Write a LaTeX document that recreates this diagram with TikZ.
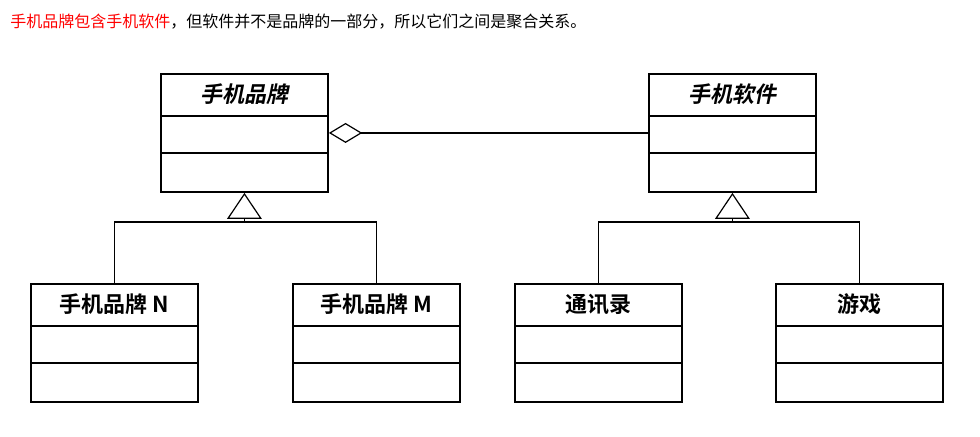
\documentclass[tikz,border=0pt]{standalone}
\usepackage{fontspec}
\usepackage{tikz}
\usetikzlibrary{arrows.meta,positioning,calc}
\newfontfamily\cjk{Noto Sans CJK SC}
\newfontfamily\cjkb{Noto Sans CJK SC Bold}
\newfontfamily\cjkbsl[FakeSlant=0.2]{Noto Sans CJK SC Bold}
\tikzset{
  cls/.style={draw, line width=1.4pt, rectangle, minimum width=125.25pt, minimum height=88.5pt, anchor=north west, inner sep=0pt},
  ttl/.style={font=\cjkb\fontsize{16.5}{16.5}\selectfont, inner sep=0pt},
  absttl/.style={font=\cjkbsl\fontsize{16.5}{16.5}\selectfont, inner sep=0pt},
  sep/.style={line width=1.4pt},
  agg/.style={-{Diamond[open, length=25pt, width=15pt]}, line width=0.9pt},
  inh/.style={-{Triangle[open, length=19.5pt, width=26pt]}, line width=0.9pt},
  lnk/.style={line width=0.9pt}
}
\begin{document}
\begin{tikzpicture}[x=0.75pt, y=-0.75pt]
  \useasboundingbox (0,0) rectangle (980,436);
  \node[anchor=west, font=\cjk\fontsize{12}{12}\selectfont, inner sep=0pt] (cap) at (10,22) {\textcolor{red}{手机品牌包含手机软件}，但软件并不是品牌的一部分，所以它们之间是聚合关系。};
  \foreach \n/\x/\y in {brand/160/73, soft/648/73, brandN/30/283, brandM/292/283, contacts/514/283, game/775/283} {
    \node[cls] (\n) at (\x,\y) {};
    \draw[sep] ($(\n.north west)+(0,43)$) -- ($(\n.north east)+(0,43)$);
    \draw[sep] ($(\n.north west)+(0,80)$) -- ($(\n.north east)+(0,80)$);
  }
  \node[absttl] (brand-t) at ($(brand.north)+(0,21.5)$) {手机品牌};
  \node[absttl] (soft-t) at ($(soft.north)+(0,21.5)$) {手机软件};
  \foreach \n/\t in {brandN/手机品牌 N, brandM/手机品牌 M, contacts/通讯录, game/游戏}
    \node[ttl] (\n-t) at ($(\n.north)+(0,21.5)$) {\t};
  \draw[agg] (soft.west) -- (brand.east);
  \draw[inh] (brand.south |- 0,222) -- (brand.south);
  \draw[lnk] (brandN.north) |- (brandM.north |- 0,222) -- (brandM.north);
  \draw[inh] (soft.south |- 0,222) -- (soft.south);
  \draw[lnk] (contacts.north) |- (game.north |- 0,222) -- (game.north);
\end{tikzpicture}
\end{document}
